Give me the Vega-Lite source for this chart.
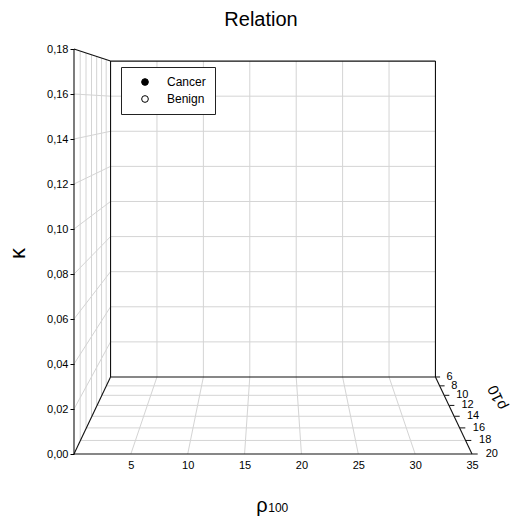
{
  "$schema": "https://vega.github.io/schema/vega-lite/v6.json",
  "width": 398,
  "height": 405,
  "autosize": {"type": "none"},
  "padding": {"left": 74, "top": 49, "right": 39, "bottom": 64},
  "config": {"font": "Liberation Sans", "view": {"stroke": null}},
  "title": {"text": "Relation", "fontSize": 20, "fontWeight": "normal", "color": "black", "anchor": "middle", "dx": -12, "offset": 13},
  "datasets": {
    "grid": [
      {"x1": 5, "z1": 6, "k1": 0, "x2": 5, "z2": 6, "k2": 0.18},
      {"x1": 10, "z1": 6, "k1": 0, "x2": 10, "z2": 6, "k2": 0.18},
      {"x1": 15, "z1": 6, "k1": 0, "x2": 15, "z2": 6, "k2": 0.18},
      {"x1": 20, "z1": 6, "k1": 0, "x2": 20, "z2": 6, "k2": 0.18},
      {"x1": 25, "z1": 6, "k1": 0, "x2": 25, "z2": 6, "k2": 0.18},
      {"x1": 30, "z1": 6, "k1": 0, "x2": 30, "z2": 6, "k2": 0.18},
      {"x1": 0, "z1": 6, "k1": 0.02, "x2": 35, "z2": 6, "k2": 0.02},
      {"x1": 0, "z1": 6, "k1": 0.04, "x2": 35, "z2": 6, "k2": 0.04},
      {"x1": 0, "z1": 6, "k1": 0.06, "x2": 35, "z2": 6, "k2": 0.06},
      {"x1": 0, "z1": 6, "k1": 0.08, "x2": 35, "z2": 6, "k2": 0.08},
      {"x1": 0, "z1": 6, "k1": 0.1, "x2": 35, "z2": 6, "k2": 0.1},
      {"x1": 0, "z1": 6, "k1": 0.12, "x2": 35, "z2": 6, "k2": 0.12},
      {"x1": 0, "z1": 6, "k1": 0.14, "x2": 35, "z2": 6, "k2": 0.14},
      {"x1": 0, "z1": 6, "k1": 0.16, "x2": 35, "z2": 6, "k2": 0.16},
      {"x1": 0, "z1": 8, "k1": 0, "x2": 0, "z2": 8, "k2": 0.18},
      {"x1": 0, "z1": 10, "k1": 0, "x2": 0, "z2": 10, "k2": 0.18},
      {"x1": 0, "z1": 12, "k1": 0, "x2": 0, "z2": 12, "k2": 0.18},
      {"x1": 0, "z1": 14, "k1": 0, "x2": 0, "z2": 14, "k2": 0.18},
      {"x1": 0, "z1": 16, "k1": 0, "x2": 0, "z2": 16, "k2": 0.18},
      {"x1": 0, "z1": 18, "k1": 0, "x2": 0, "z2": 18, "k2": 0.18},
      {"x1": 0, "z1": 6, "k1": 0.02, "x2": 0, "z2": 20, "k2": 0.02},
      {"x1": 0, "z1": 6, "k1": 0.04, "x2": 0, "z2": 20, "k2": 0.04},
      {"x1": 0, "z1": 6, "k1": 0.06, "x2": 0, "z2": 20, "k2": 0.06},
      {"x1": 0, "z1": 6, "k1": 0.08, "x2": 0, "z2": 20, "k2": 0.08},
      {"x1": 0, "z1": 6, "k1": 0.1, "x2": 0, "z2": 20, "k2": 0.1},
      {"x1": 0, "z1": 6, "k1": 0.12, "x2": 0, "z2": 20, "k2": 0.12},
      {"x1": 0, "z1": 6, "k1": 0.14, "x2": 0, "z2": 20, "k2": 0.14},
      {"x1": 0, "z1": 6, "k1": 0.16, "x2": 0, "z2": 20, "k2": 0.16},
      {"x1": 5, "z1": 6, "k1": 0, "x2": 5, "z2": 20, "k2": 0},
      {"x1": 10, "z1": 6, "k1": 0, "x2": 10, "z2": 20, "k2": 0},
      {"x1": 15, "z1": 6, "k1": 0, "x2": 15, "z2": 20, "k2": 0},
      {"x1": 20, "z1": 6, "k1": 0, "x2": 20, "z2": 20, "k2": 0},
      {"x1": 25, "z1": 6, "k1": 0, "x2": 25, "z2": 20, "k2": 0},
      {"x1": 30, "z1": 6, "k1": 0, "x2": 30, "z2": 20, "k2": 0},
      {"x1": 0, "z1": 8, "k1": 0, "x2": 35, "z2": 8, "k2": 0},
      {"x1": 0, "z1": 10, "k1": 0, "x2": 35, "z2": 10, "k2": 0},
      {"x1": 0, "z1": 12, "k1": 0, "x2": 35, "z2": 12, "k2": 0},
      {"x1": 0, "z1": 14, "k1": 0, "x2": 35, "z2": 14, "k2": 0},
      {"x1": 0, "z1": 16, "k1": 0, "x2": 35, "z2": 16, "k2": 0},
      {"x1": 0, "z1": 18, "k1": 0, "x2": 35, "z2": 18, "k2": 0}
    ],
    "frame": [
      {"x1": 0, "z1": 6, "k1": 0, "x2": 35, "z2": 6, "k2": 0},
      {"x1": 0, "z1": 6, "k1": 0.18, "x2": 35, "z2": 6, "k2": 0.18},
      {"x1": 0, "z1": 6, "k1": 0, "x2": 0, "z2": 6, "k2": 0.18},
      {"x1": 35, "z1": 6, "k1": 0, "x2": 35, "z2": 6, "k2": 0.18},
      {"x1": 0, "z1": 20, "k1": 0.18, "x2": 0, "z2": 6, "k2": 0.18},
      {"x1": 0, "z1": 20, "k1": 0, "x2": 0, "z2": 20, "k2": 0.18},
      {"x1": 0, "z1": 20, "k1": 0, "x2": 0, "z2": 6, "k2": 0},
      {"x1": 0, "z1": 20, "k1": 0, "x2": 35, "z2": 20, "k2": 0},
      {"x1": 35, "z1": 20, "k1": 0, "x2": 35, "z2": 6, "k2": 0}
    ],
    "rho10": [
      {"rho10": 6}, {"rho10": 8}, {"rho10": 10}, {"rho10": 12},
      {"rho10": 14}, {"rho10": 16}, {"rho10": 18}, {"rho10": 20}
    ]
  },
  "encoding": {
    "x": {
      "field": "px", "type": "quantitative",
      "scale": {"domain": [0, 35], "nice": false, "zero": false},
      "axis": {"values": [5, 10, 15, 20, 25, 30, 35], "title": null, "grid": false, "ticks": false, "domain": false, "labelPadding": 5, "labelFontSize": 11, "labelColor": "black", "labelFlush": false, "labelOverlap": false}
    },
    "y": {
      "field": "py", "type": "quantitative",
      "scale": {"domain": [0, 0.18], "nice": false, "zero": false},
      "axis": {"values": [0, 0.02, 0.04, 0.06, 0.08, 0.1, 0.12, 0.14, 0.16, 0.18], "title": "κ", "grid": false, "domain": false, "tickSize": 4, "tickColor": "black", "labelPadding": 2, "labelExpr": "replace(format(datum.value, '.2f'), '.', ',')", "labelFontSize": 11, "labelColor": "black", "labelFlush": false, "labelOverlap": false, "titleFontSize": 22, "titleFontWeight": "normal", "titleColor": "black", "titleX": -57, "titleY": 204, "titleAngle": 270, "titleAlign": "center", "titleBaseline": "middle"}
    }
  },
  "layer": [
    {
      "data": {"name": "grid"},
      "transform": [
        {"calculate": "17.5 + (datum.x1 - 17.5) / (1 + 0.225 * (20 - datum.z1) / 14)", "as": "px"},
        {"calculate": "0.1556 + (datum.k1 - 0.1556) / (1 + 0.282 * (20 - datum.z1) / 14)", "as": "py"},
        {"calculate": "17.5 + (datum.x2 - 17.5) / (1 + 0.225 * (20 - datum.z2) / 14)", "as": "px2"},
        {"calculate": "0.1556 + (datum.k2 - 0.1556) / (1 + 0.282 * (20 - datum.z2) / 14)", "as": "py2"}
      ],
      "mark": {"type": "rule", "color": "#d4d4d4", "strokeWidth": 1},
      "encoding": {"x2": {"field": "px2"}, "y2": {"field": "py2"}}
    },
    {
      "data": {"name": "frame"},
      "transform": [
        {"calculate": "17.5 + (datum.x1 - 17.5) / (1 + 0.225 * (20 - datum.z1) / 14)", "as": "px"},
        {"calculate": "0.1556 + (datum.k1 - 0.1556) / (1 + 0.282 * (20 - datum.z1) / 14)", "as": "py"},
        {"calculate": "17.5 + (datum.x2 - 17.5) / (1 + 0.225 * (20 - datum.z2) / 14)", "as": "px2"},
        {"calculate": "0.1556 + (datum.k2 - 0.1556) / (1 + 0.282 * (20 - datum.z2) / 14)", "as": "py2"}
      ],
      "mark": {"type": "rule", "color": "#111111", "strokeWidth": 1.1},
      "encoding": {"x2": {"field": "px2"}, "y2": {"field": "py2"}}
    },
    {
      "data": {"name": "rho10"},
      "transform": [
        {"calculate": "17.5 + 17.5 / (1 + 0.225 * (20 - datum.rho10) / 14)", "as": "px"},
        {"calculate": "17.5 + 18 / (1 + 0.225 * (20 - datum.rho10) / 14)", "as": "px2"},
        {"calculate": "0.1556 - 0.1556 / (1 + 0.282 * (20 - datum.rho10) / 14)", "as": "py"}
      ],
      "mark": {"type": "rule", "color": "#111111", "strokeWidth": 1},
      "encoding": {"x2": {"field": "px2"}}
    },
    {
      "data": {"name": "rho10"},
      "transform": [
        {"calculate": "17.5 + 18.7 / (1 + 0.225 * (20 - datum.rho10) / 14)", "as": "px"},
        {"calculate": "0.1556 - 0.1556 / (1 + 0.282 * (20 - datum.rho10) / 14)", "as": "py"}
      ],
      "mark": {"type": "text", "align": "left", "baseline": "middle", "fontSize": 11, "color": "black"},
      "encoding": {"text": {"field": "rho10", "type": "quantitative"}}
    },
    {
      "data": {"values": [{"label": "ρ10", "px": 37.2, "py": 0.025}]},
      "mark": {"type": "text", "align": "center", "baseline": "middle", "fontSize": 15, "color": "black", "angle": 245},
      "encoding": {"text": {"field": "label", "type": "nominal"}}
    },
    {
      "data": {"values": [{"label": "ρ", "px": 17.02, "py": -0.0258}]},
      "mark": {"type": "text", "align": "right", "baseline": "alphabetic", "fontSize": 20, "color": "black"},
      "encoding": {"text": {"field": "label", "type": "nominal"}}
    },
    {
      "data": {"values": [{"label": "100", "px": 17.08, "py": -0.0258}]},
      "mark": {"type": "text", "align": "left", "baseline": "alphabetic", "fontSize": 12, "color": "black"},
      "encoding": {"text": {"field": "label", "type": "nominal"}}
    },
    {
      "data": {"values": []},
      "mark": {"type": "point", "shape": "circle", "filled": true, "opacity": 1, "stroke": "black", "strokeWidth": 1},
      "encoding": {
        "fill": {
          "field": "diagnosis", "type": "nominal",
          "scale": {"domain": ["Cancer", "Benign"], "range": ["black", "white"]},
          "legend": {"orient": "none", "legendX": 47, "legendY": 18, "title": null, "padding": 9, "strokeColor": "#222222", "fillColor": "white", "symbolType": "circle", "symbolSize": 45, "symbolOpacity": 1, "symbolStrokeColor": "black", "symbolStrokeWidth": 1, "labelFontSize": 12, "labelColor": "black", "labelOffset": 16, "rowPadding": 5, "symbolOffset": 9}
        }
      }
    }
  ]
}
